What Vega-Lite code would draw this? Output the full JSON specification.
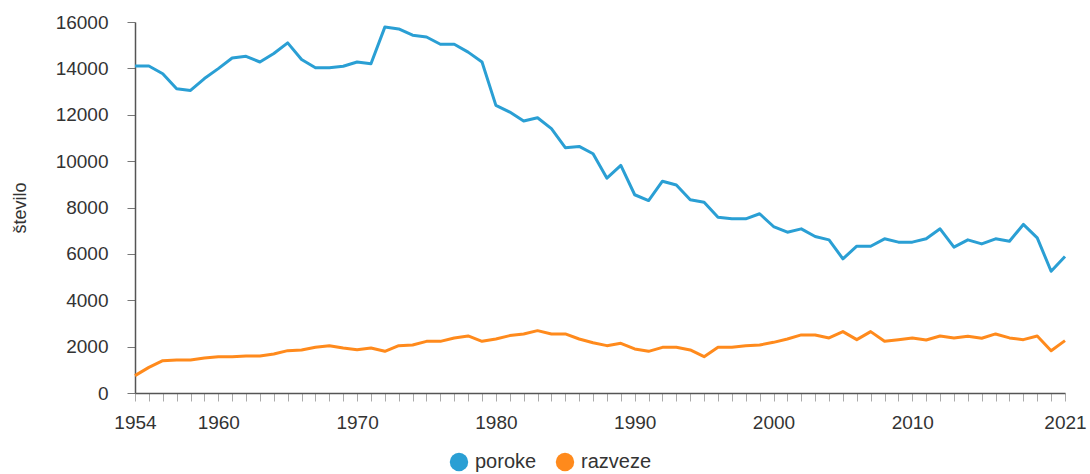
{
  "$schema": "https://vega.github.io/schema/vega-lite/v6.json",
  "autosize": "none",
  "width": 930,
  "height": 371,
  "padding": {"left": 135, "top": 22, "right": 25, "bottom": 81},
  "background": "white",
  "data": {"values": [
    {"leto": 1954, "poroke": 14100, "razveze": 750},
    {"leto": 1955, "poroke": 14100, "razveze": 1105},
    {"leto": 1956, "poroke": 13770, "razveze": 1395},
    {"leto": 1957, "poroke": 13125, "razveze": 1425},
    {"leto": 1958, "poroke": 13050, "razveze": 1425},
    {"leto": 1959, "poroke": 13560, "razveze": 1510},
    {"leto": 1960, "poroke": 13990, "razveze": 1567},
    {"leto": 1961, "poroke": 14450, "razveze": 1567},
    {"leto": 1962, "poroke": 14520, "razveze": 1597},
    {"leto": 1963, "poroke": 14275, "razveze": 1597},
    {"leto": 1964, "poroke": 14640, "razveze": 1684},
    {"leto": 1965, "poroke": 15100, "razveze": 1826},
    {"leto": 1966, "poroke": 14380, "razveze": 1856},
    {"leto": 1967, "poroke": 14030, "razveze": 1970},
    {"leto": 1968, "poroke": 14030, "razveze": 2042},
    {"leto": 1969, "poroke": 14090, "razveze": 1943},
    {"leto": 1970, "poroke": 14275, "razveze": 1870},
    {"leto": 1971, "poroke": 14200, "razveze": 1943},
    {"leto": 1972, "poroke": 15780, "razveze": 1797},
    {"leto": 1973, "poroke": 15700, "razveze": 2042},
    {"leto": 1974, "poroke": 15430, "razveze": 2070},
    {"leto": 1975, "poroke": 15355, "razveze": 2228},
    {"leto": 1976, "poroke": 15040, "razveze": 2228},
    {"leto": 1977, "poroke": 15040, "razveze": 2375},
    {"leto": 1978, "poroke": 14700, "razveze": 2460},
    {"leto": 1979, "poroke": 14275, "razveze": 2228},
    {"leto": 1980, "poroke": 12405, "razveze": 2330},
    {"leto": 1981, "poroke": 12115, "razveze": 2475},
    {"leto": 1982, "poroke": 11730, "razveze": 2547},
    {"leto": 1983, "poroke": 11870, "razveze": 2690},
    {"leto": 1984, "poroke": 11400, "razveze": 2547},
    {"leto": 1985, "poroke": 10580, "razveze": 2547},
    {"leto": 1986, "poroke": 10635, "razveze": 2330},
    {"leto": 1987, "poroke": 10320, "razveze": 2170},
    {"leto": 1988, "poroke": 9265, "razveze": 2042},
    {"leto": 1989, "poroke": 9815, "razveze": 2142},
    {"leto": 1990, "poroke": 8550, "razveze": 1900},
    {"leto": 1991, "poroke": 8300, "razveze": 1797},
    {"leto": 1992, "poroke": 9135, "razveze": 1970},
    {"leto": 1993, "poroke": 8970, "razveze": 1970},
    {"leto": 1994, "poroke": 8330, "razveze": 1856},
    {"leto": 1995, "poroke": 8230, "razveze": 1567},
    {"leto": 1996, "poroke": 7580, "razveze": 1970},
    {"leto": 1997, "poroke": 7510, "razveze": 1970},
    {"leto": 1998, "poroke": 7510, "razveze": 2042},
    {"leto": 1999, "poroke": 7730, "razveze": 2070},
    {"leto": 2000, "poroke": 7180, "razveze": 2185},
    {"leto": 2001, "poroke": 6935, "razveze": 2330},
    {"leto": 2002, "poroke": 7080, "razveze": 2505},
    {"leto": 2003, "poroke": 6750, "razveze": 2505},
    {"leto": 2004, "poroke": 6605, "razveze": 2375},
    {"leto": 2005, "poroke": 5785, "razveze": 2647},
    {"leto": 2006, "poroke": 6330, "razveze": 2300},
    {"leto": 2007, "poroke": 6330, "razveze": 2647},
    {"leto": 2008, "poroke": 6650, "razveze": 2228},
    {"leto": 2009, "poroke": 6505, "razveze": 2300},
    {"leto": 2010, "poroke": 6505, "razveze": 2375},
    {"leto": 2011, "poroke": 6650, "razveze": 2288},
    {"leto": 2012, "poroke": 7080, "razveze": 2460},
    {"leto": 2013, "poroke": 6290, "razveze": 2375},
    {"leto": 2014, "poroke": 6605, "razveze": 2450},
    {"leto": 2015, "poroke": 6430, "razveze": 2360},
    {"leto": 2016, "poroke": 6650, "razveze": 2547},
    {"leto": 2017, "poroke": 6545, "razveze": 2375},
    {"leto": 2018, "poroke": 7270, "razveze": 2300},
    {"leto": 2019, "poroke": 6690, "razveze": 2460},
    {"leto": 2020, "poroke": 5250, "razveze": 1826},
    {"leto": 2021, "poroke": 5885, "razveze": 2258}
  ]},
  "transform": [{"fold": ["poroke", "razveze"], "as": ["serija", "stevilo"]}],
  "mark": {"type": "line", "strokeWidth": 3, "strokeJoin": "round"},
  "encoding": {
    "x": {
      "field": "leto", "type": "quantitative",
      "scale": {"domain": [1954, 2021], "nice": false, "zero": false},
      "axis": {
        "title": null,
        "values": [1954,1955,1956,1957,1958,1959,1960,1961,1962,1963,1964,1965,1966,1967,1968,1969,1970,1971,1972,1973,1974,1975,1976,1977,1978,1979,1980,1981,1982,1983,1984,1985,1986,1987,1988,1989,1990,1991,1992,1993,1994,1995,1996,1997,1998,1999,2000,2001,2002,2003,2004,2005,2006,2007,2008,2009,2010,2011,2012,2013,2014,2015,2016,2017,2018,2019,2020,2021],
        "labelExpr": "(datum.value == 1954 || datum.value == 2021 || (datum.value % 10 == 0 && datum.value != 2020)) ? datum.value : ''",
        "labelOverlap": false,
        "labelFlush": false,
        "labelFont": "Liberation Sans",
        "labelFontSize": 19,
        "labelColor": "#333333",
        "labelPadding": 12,
        "tickColor": "#aaaaaa",
        "tickSize": 8,
        "domainColor": "#555555",
        "domainWidth": 1.5,
        "grid": false
      }
    },
    "y": {
      "field": "stevilo", "type": "quantitative",
      "scale": {"domain": [0, 16000], "nice": false},
      "axis": {
        "title": "število",
        "titleFont": "Liberation Sans",
        "titleFontSize": 18,
        "titleFontWeight": "normal",
        "titleColor": "#333333",
        "titlePadding": 26,
        "values": [0,2000,4000,6000,8000,10000,12000,14000,16000],
        "format": "d",
        "labelFont": "Liberation Sans",
        "labelFontSize": 19,
        "labelColor": "#333333",
        "labelPadding": 19,
        "tickColor": "#777777",
        "tickSize": 8,
        "domainColor": "#555555",
        "domainWidth": 1.5,
        "grid": false
      }
    },
    "color": {
      "field": "serija", "type": "nominal",
      "scale": {"domain": ["poroke", "razveze"], "range": ["#2a9fd4", "#ff8a1c"]},
      "legend": {
        "title": null,
        "orient": "none",
        "direction": "horizontal",
        "legendX": 314,
        "legendY": 430,
        "symbolType": "circle",
        "symbolSize": 340,
        "symbolStrokeWidth": 0,
        "labelFont": "Liberation Sans",
        "labelFontSize": 20,
        "labelColor": "#333333",
        "labelOffset": 6,
        "columnPadding": 18,
        "encode": {
          "symbols": {"update": {"fill": {"scale": "color", "field": "value"}, "opacity": {"value": 1}}}
        }
      }
    }
  },
  "config": {"view": {"stroke": null}}
}
